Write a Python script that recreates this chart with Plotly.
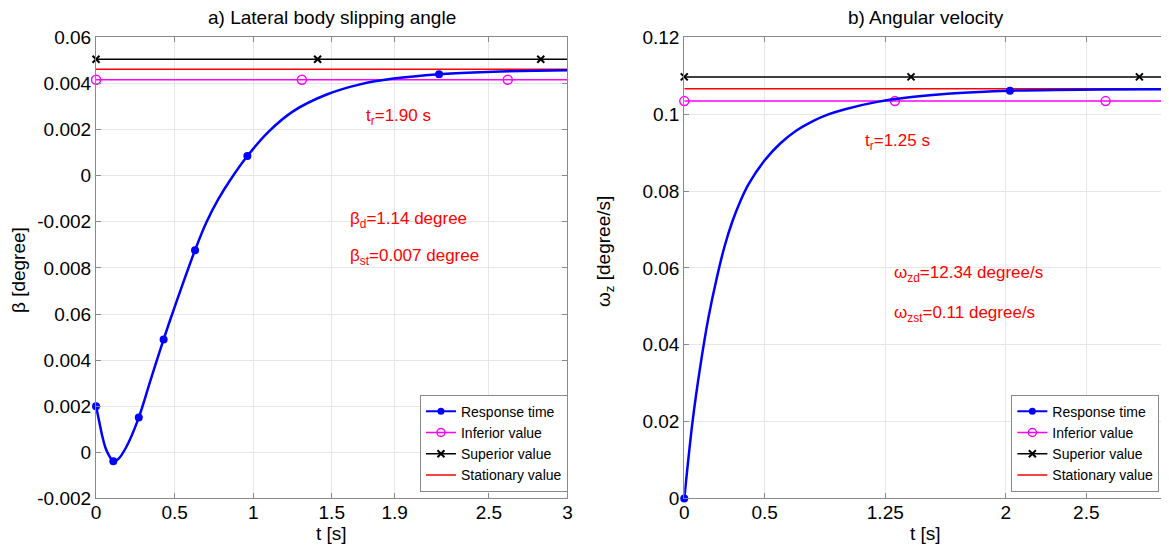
import plotly.graph_objects as go

# ---- a) lateral body slipping angle (values on the underlying linear axis) ----
T_BETA = [0, 0.02, 0.04, 0.06, 0.08, 0.11, 0.14, 0.19, 0.272, 0.35, 0.43, 0.5, 0.63,
          0.704, 0.78, 0.853, 0.963, 1.097, 1.256, 1.468, 1.68, 1.893, 2.183, 2.444, 2.7, 3.0]
BETA = [0.002, 0.00135, 0.0007, 0.0002, -0.0001, -0.00038, -0.0003, 0.0002, 0.00151, 0.0032,
        0.0049, 0.0063, 0.00877, 0.0100, 0.0110, 0.0118, 0.01285, 0.0139, 0.0148, 0.01552,
        0.01596, 0.01621, 0.0164, 0.01649, 0.01654, 0.01657]
T_BETA_MARKS = [0, 0.11, 0.272, 0.43, 0.63, 0.963, 2.183]
BETA_MARKS = [0.002, -0.00038, 0.00151, 0.0049, 0.00877, 0.01285, 0.0164]
BETA_ST = 0.01661
BETA_SUP = 0.01705
BETA_INF = 0.01616
BETA_YTICKS = [-0.002, 0, 0.002, 0.004, 0.006, 0.008, 0.010, 0.012, 0.014, 0.016, 0.018]
BETA_YLABELS = ["-0.002", "0", "0.002", "0.004", "0.06", "0.008",
                "-0.002", "0", "0.002", "0.004", "0.06"]
BETA_XTICKS = [0, 0.5, 1, 1.5, 1.9, 2.5, 3]

# ---- b) angular velocity ----
T_OMEGA = [0, 0.05, 0.1, 0.15, 0.2, 0.25, 0.3, 0.35, 0.4, 0.5, 0.6, 0.7, 0.8, 0.9, 1.0,
           1.2, 1.4, 1.6, 1.8, 2.025, 2.3, 2.6, 3.0]
OMEGA = [0, 0.0195, 0.0345, 0.047, 0.057, 0.0655, 0.0722, 0.0775, 0.0818, 0.0880, 0.0925,
         0.0958, 0.0982, 0.1000, 0.1013, 0.1032, 0.1044, 0.1052, 0.1057, 0.1061, 0.1063,
         0.1064, 0.1065]
T_OMEGA_MARKS = [0, 2.025]
OMEGA_MARKS = [0, 0.1061]
OMEGA_ST = 0.1066
OMEGA_SUP = 0.1097
OMEGA_INF = 0.1034
OMEGA_XTICKS = [0, 0.5, 1.25, 2, 2.5, 3]

T_SUP_MARKS = [0, 1.41, 2.83]
T_INF_MARKS = [0, 1.31, 2.62]
T_SPAN = [0, 3]

FONT = "Arial, Liberation Sans, sans-serif"
BLUE, MAGENTA, BLACK, RED = "#0000ff", "#ff00ff", "#000000", "#ff0000"

SUP_MARKER = dict(symbol="x-thin-open", size=7, color=BLACK, line=dict(color=BLACK, width=2))
INF_MARKER = dict(symbol="circle-open", size=9, color=MAGENTA, line=dict(color=MAGENTA, width=1.5))

fig = go.Figure()


def add_panel(xa, ya, leg, t, y, tm, ym, st, sup, inf):
    # stationary / superior / inferior lines
    fig.add_trace(go.Scatter(x=T_SPAN, y=[sup, sup], mode="lines", line=dict(color=BLACK, width=1.5),
                             xaxis=xa, yaxis=ya, showlegend=False, hoverinfo="skip"))
    fig.add_trace(go.Scatter(x=T_SUP_MARKS, y=[sup] * len(T_SUP_MARKS), mode="markers",
                             marker=SUP_MARKER, xaxis=xa, yaxis=ya, showlegend=False, cliponaxis=False))
    fig.add_trace(go.Scatter(x=T_SPAN, y=[st, st], mode="lines", line=dict(color=RED, width=1.5),
                             xaxis=xa, yaxis=ya, showlegend=False, hoverinfo="skip"))
    fig.add_trace(go.Scatter(x=T_SPAN, y=[inf, inf], mode="lines", line=dict(color=MAGENTA, width=1.5),
                             xaxis=xa, yaxis=ya, showlegend=False, hoverinfo="skip"))
    fig.add_trace(go.Scatter(x=T_INF_MARKS, y=[inf] * len(T_INF_MARKS), mode="markers",
                             marker=INF_MARKER, xaxis=xa, yaxis=ya, showlegend=False, cliponaxis=False))
    # response curve
    fig.add_trace(go.Scatter(x=t, y=y, mode="lines",
                             line=dict(color=BLUE, width=2.5, shape="spline", smoothing=0.8),
                             xaxis=xa, yaxis=ya, showlegend=False))
    fig.add_trace(go.Scatter(x=tm, y=ym, mode="markers", marker=dict(color=BLUE, size=8),
                             xaxis=xa, yaxis=ya, showlegend=False, cliponaxis=False))
    # legend entries
    entries = [
        ("Response time", dict(color=BLUE, width=2), dict(color=BLUE, size=7), "lines+markers"),
        ("Inferior value", dict(color=MAGENTA, width=1.5), dict(INF_MARKER, size=8), "lines+markers"),
        ("Superior value", dict(color=BLACK, width=1.5), SUP_MARKER, "lines+markers"),
        ("Stationary value", dict(color=RED, width=1.5), None, "lines"),
    ]
    for name, ln, mk, mode in entries:
        kw = dict(marker=mk) if mk else {}
        fig.add_trace(go.Scatter(x=[None], y=[None], mode=mode, name=name, line=ln, xaxis=xa, yaxis=ya,
                                 legend=leg, **kw))


add_panel("x", "y", "legend", T_BETA, BETA, T_BETA_MARKS, BETA_MARKS, BETA_ST, BETA_SUP, BETA_INF)
add_panel("x2", "y2", "legend2", T_OMEGA, OMEGA, T_OMEGA_MARKS, OMEGA_MARKS, OMEGA_ST, OMEGA_SUP, OMEGA_INF)

axis_style = dict(
    showline=True, mirror="ticks", linecolor="#8a8a8a", linewidth=1.2,
    ticks="inside", ticklen=5, tickcolor="#8a8a8a",
    showgrid=True, gridcolor="#e6e6e6", gridwidth=1, zeroline=False, automargin=False,
    tickfont=dict(family=FONT, size=19, color="black"),
)

# page body adds an 8px offset, so positions are shifted up/left by 8px
Y_DOM = [0.1033, 0.9464]
legend_style = dict(y=0.1157, xanchor="right", yanchor="bottom", bgcolor="white",
                    bordercolor="#8a8a8a", borderwidth=1, font=dict(family=FONT, size=14),
                    tracegroupgap=0, itemwidth=30)
fig.update_layout(
    width=1169, height=547,
    margin=dict(l=0, r=0, t=0, b=0),
    paper_bgcolor="white", plot_bgcolor="white",
    font=dict(family=FONT, color="black"),
    xaxis=dict(domain=[0.0753, 0.4786], range=[0, 3], tickvals=BETA_XTICKS, ticklabelstandoff=-3,
               ticktext=[str(v) for v in BETA_XTICKS], anchor="y", **axis_style),
    yaxis=dict(domain=Y_DOM, range=[-0.002, 0.018], tickvals=BETA_YTICKS, ticktext=BETA_YLABELS,
               anchor="x", **axis_style),
    xaxis2=dict(domain=[0.5785, 0.9912], range=[0, 3], tickvals=OMEGA_XTICKS, ticklabelstandoff=-3,
                ticktext=[str(v) for v in OMEGA_XTICKS], anchor="y2", **axis_style),
    yaxis2=dict(domain=Y_DOM, range=[0, 0.12], dtick=0.02, anchor="x2", **axis_style),
    legend=dict(x=0.4790, **legend_style),
    legend2=dict(x=0.9849, **legend_style),
)

red_font = dict(family=FONT, size=17, color=RED)
notes = [
    ("x", "y", 1.706, 0.01454, "t<sub>r</sub>=1.90 s"),
    ("x", "y", 1.606, 0.01007, "β<sub>d</sub>=1.14 degree"),
    ("x", "y", 1.606, 0.00848, "β<sub>st</sub>=0.007 degree"),
    ("x2", "y2", 1.113, 0.0927, "t<sub>r</sub>=1.25 s"),
    ("x2", "y2", 1.294, 0.0583, "ω<sub>zd</sub>=12.34 degree/s"),
    ("x2", "y2", 1.294, 0.0480, "ω<sub>zst</sub>=0.11 degree/s"),
]
for xr, yr, x, y, text in notes:
    fig.add_annotation(xref=xr, yref=yr, x=x, y=y, text=text, showarrow=False,
                       xanchor="left", yanchor="middle", font=red_font)

label_font = dict(family=FONT, size=19, color="black")
fig.add_annotation(xref="paper", yref="paper", x=0.2769, y=0.9835, text="a) Lateral body slipping angle",
                   showarrow=False, xanchor="center", yanchor="middle", font=label_font)
fig.add_annotation(xref="paper", yref="paper", x=0.7849, y=0.9835, text="b) Angular velocity",
                   showarrow=False, xanchor="center", yanchor="middle", font=label_font)
fig.add_annotation(xref="paper", yref="paper", x=0.2769, y=0.0384, text="t [s]",
                   showarrow=False, xanchor="center", yanchor="middle", font=label_font)
fig.add_annotation(xref="paper", yref="paper", x=0.7849, y=0.0384, text="t [s]",
                   showarrow=False, xanchor="center", yanchor="middle", font=label_font)
fig.add_annotation(xref="paper", yref="paper", x=0.0086, y=0.521, text="β [degree]", textangle=-90,
                   showarrow=False, xanchor="center", yanchor="middle", font=label_font)
fig.add_annotation(xref="paper", yref="paper", x=0.5107, y=0.5539, text="ω<sub>z</sub> [degree/s]",
                   textangle=-90, showarrow=False, xanchor="center", yanchor="middle", font=label_font)

fig.write_html("out.html")
